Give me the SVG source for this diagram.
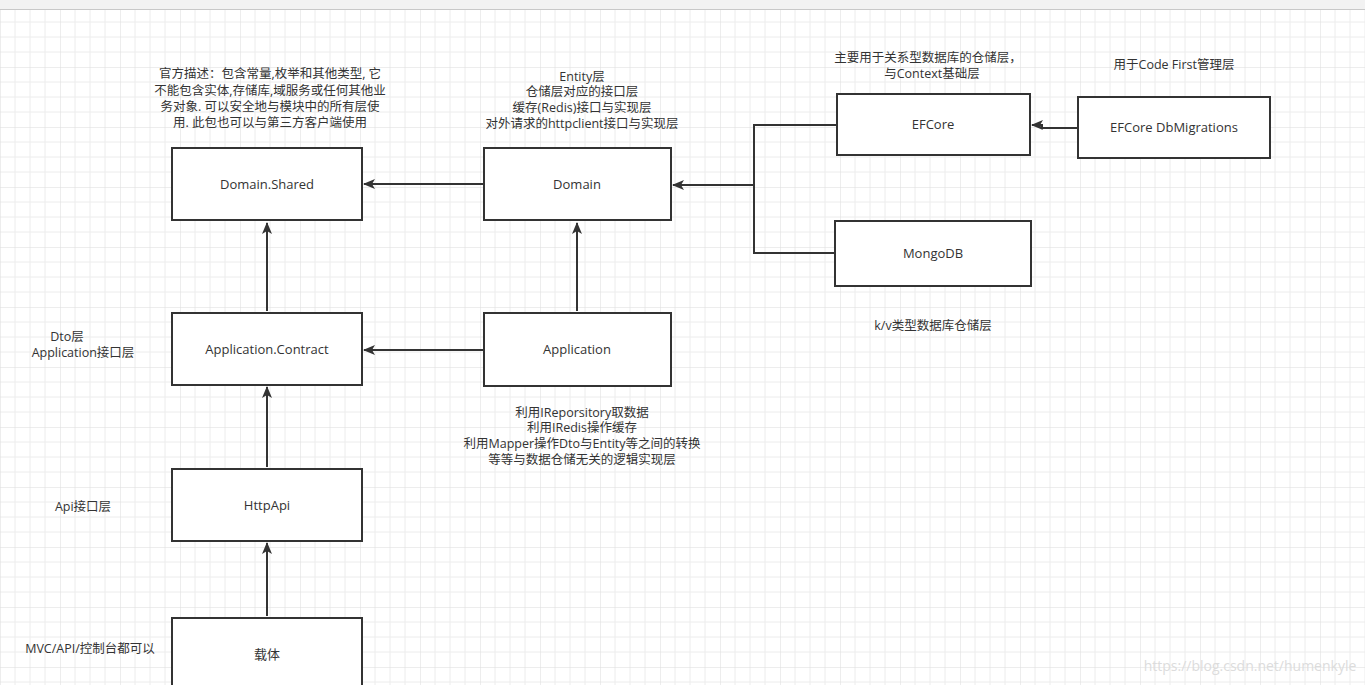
<svg xmlns="http://www.w3.org/2000/svg" width="1365" height="685" viewBox="0 0 1365 685">
<defs>
<pattern id="g" x="0" y="7" width="60" height="60" patternUnits="userSpaceOnUse">
<path d="M15 0V60M30 0V60M45 0V60M0 15H60M0 30H60M0 45H60" stroke="#ececec" stroke-width="1" fill="none"/>
<path d="M0 0V60M0 0H60" stroke="#dcdcdc" stroke-width="1" fill="none"/>
</pattern>
<marker id="a" markerWidth="12" markerHeight="10" refX="11" refY="5" orient="auto" markerUnits="userSpaceOnUse">
<path d="M0 0L12 5L0 10L3 5Z" fill="#333"/>
</marker>
</defs>
<style>
.n rect{fill:#fff;stroke:#333;stroke-width:2}
text{font-family:"Open Sans","Noto Sans CJK SC",sans-serif;font-size:12.5px;fill:#333;text-anchor:middle}
.n text{font-size:13px}
.c path{fill:none;stroke:#333;stroke-width:2;marker-end:url(#a)}
.c path.p{marker-end:none}
</style>
<rect width="1365" height="685" fill="#fff"/>
<rect y="10" width="1365" height="675" fill="url(#g)"/>
<rect width="1365" height="9" fill="#f2f2f2"/>
<line x1="0" y1="9.5" x2="1365" y2="9.5" stroke="#c8c8c8"/>
<g class="c">
<path d="M483 184H364"/>
<path d="M836 125H754V253H834"  class="p"/>
<path d="M754 185H673"/>
<path d="M1077 128H1042V125H1032"/>
<path d="M577 311V223"/>
<path d="M483 350H364"/>
<path d="M267 311V223"/>
<path d="M267 467V387"/>
<path d="M267 616V543"/>
</g>
<g id="n1" class="n"><rect x="172" y="148" width="190" height="72"/><text x="267" y="189">Domain.Shared</text></g>
<g id="n2" class="n"><rect x="484" y="148" width="187" height="72"/><text x="577" y="189">Domain</text></g>
<g id="n3" class="n"><rect x="837" y="94" width="193" height="61"/><text x="933" y="129">EFCore</text></g>
<g id="n4" class="n"><rect x="1078" y="97" width="192" height="61"/><text x="1174" y="132">EFCore DbMigrations</text></g>
<g id="n5" class="n"><rect x="835" y="221" width="196" height="65"/><text x="933" y="258">MongoDB</text></g>
<g id="n6" class="n"><rect x="172" y="313" width="190" height="72"/><text x="267" y="354">Application.Contract</text></g>
<g id="n7" class="n"><rect x="484" y="313" width="187" height="73"/><text x="577" y="354">Application</text></g>
<g id="n8" class="n"><rect x="172" y="469" width="190" height="72"/><text x="267" y="510">HttpApi</text></g>
<g id="n9" class="n"><rect x="172" y="618" width="190" height="72"/><text x="267" y="659">载体</text></g>
<text x="270" y="78">官方描述：包含常量,枚举和其他类型, 它</text>
<text x="270" y="95">不能包含实体,存储库,域服务或任何其他业</text>
<text x="270" y="111">务对象. 可以安全地与模块中的所有层使</text>
<text x="270" y="127">用. 此包也可以与第三方客户端使用</text>
<text x="582" y="81">Entity层</text>
<text x="582" y="96">仓储层对应的接口层</text>
<text x="582" y="112">缓存(Redis)接口与实现层</text>
<text x="582" y="128">对外请求的httpclient接口与实现层</text>
<text x="928" y="62">主要用于关系型数据库的仓储层，</text>
<text x="932" y="78">与Context基础层</text>
<text x="1174" y="69">用于Code First管理层</text>
<text x="933" y="330">k/v类型数据库仓储层</text>
<text x="67" y="341">Dto层</text>
<text x="83" y="357">Application接口层</text>
<text x="582" y="417">利用IReporsitory取数据</text>
<text x="582" y="432">利用IRedis操作缓存</text>
<text x="582" y="448">利用Mapper操作Dto与Entity等之间的转换</text>
<text x="582" y="464">等等与数据仓储无关的逻辑实现层</text>
<text x="83" y="511">Api接口层</text>
<text x="90" y="653">MVC/API/控制台都可以</text>
<text x="1250" y="671" style="fill:#dcdcdc;font-size:14px">https://blog.csdn.net/humenkyle</text>
</svg>
